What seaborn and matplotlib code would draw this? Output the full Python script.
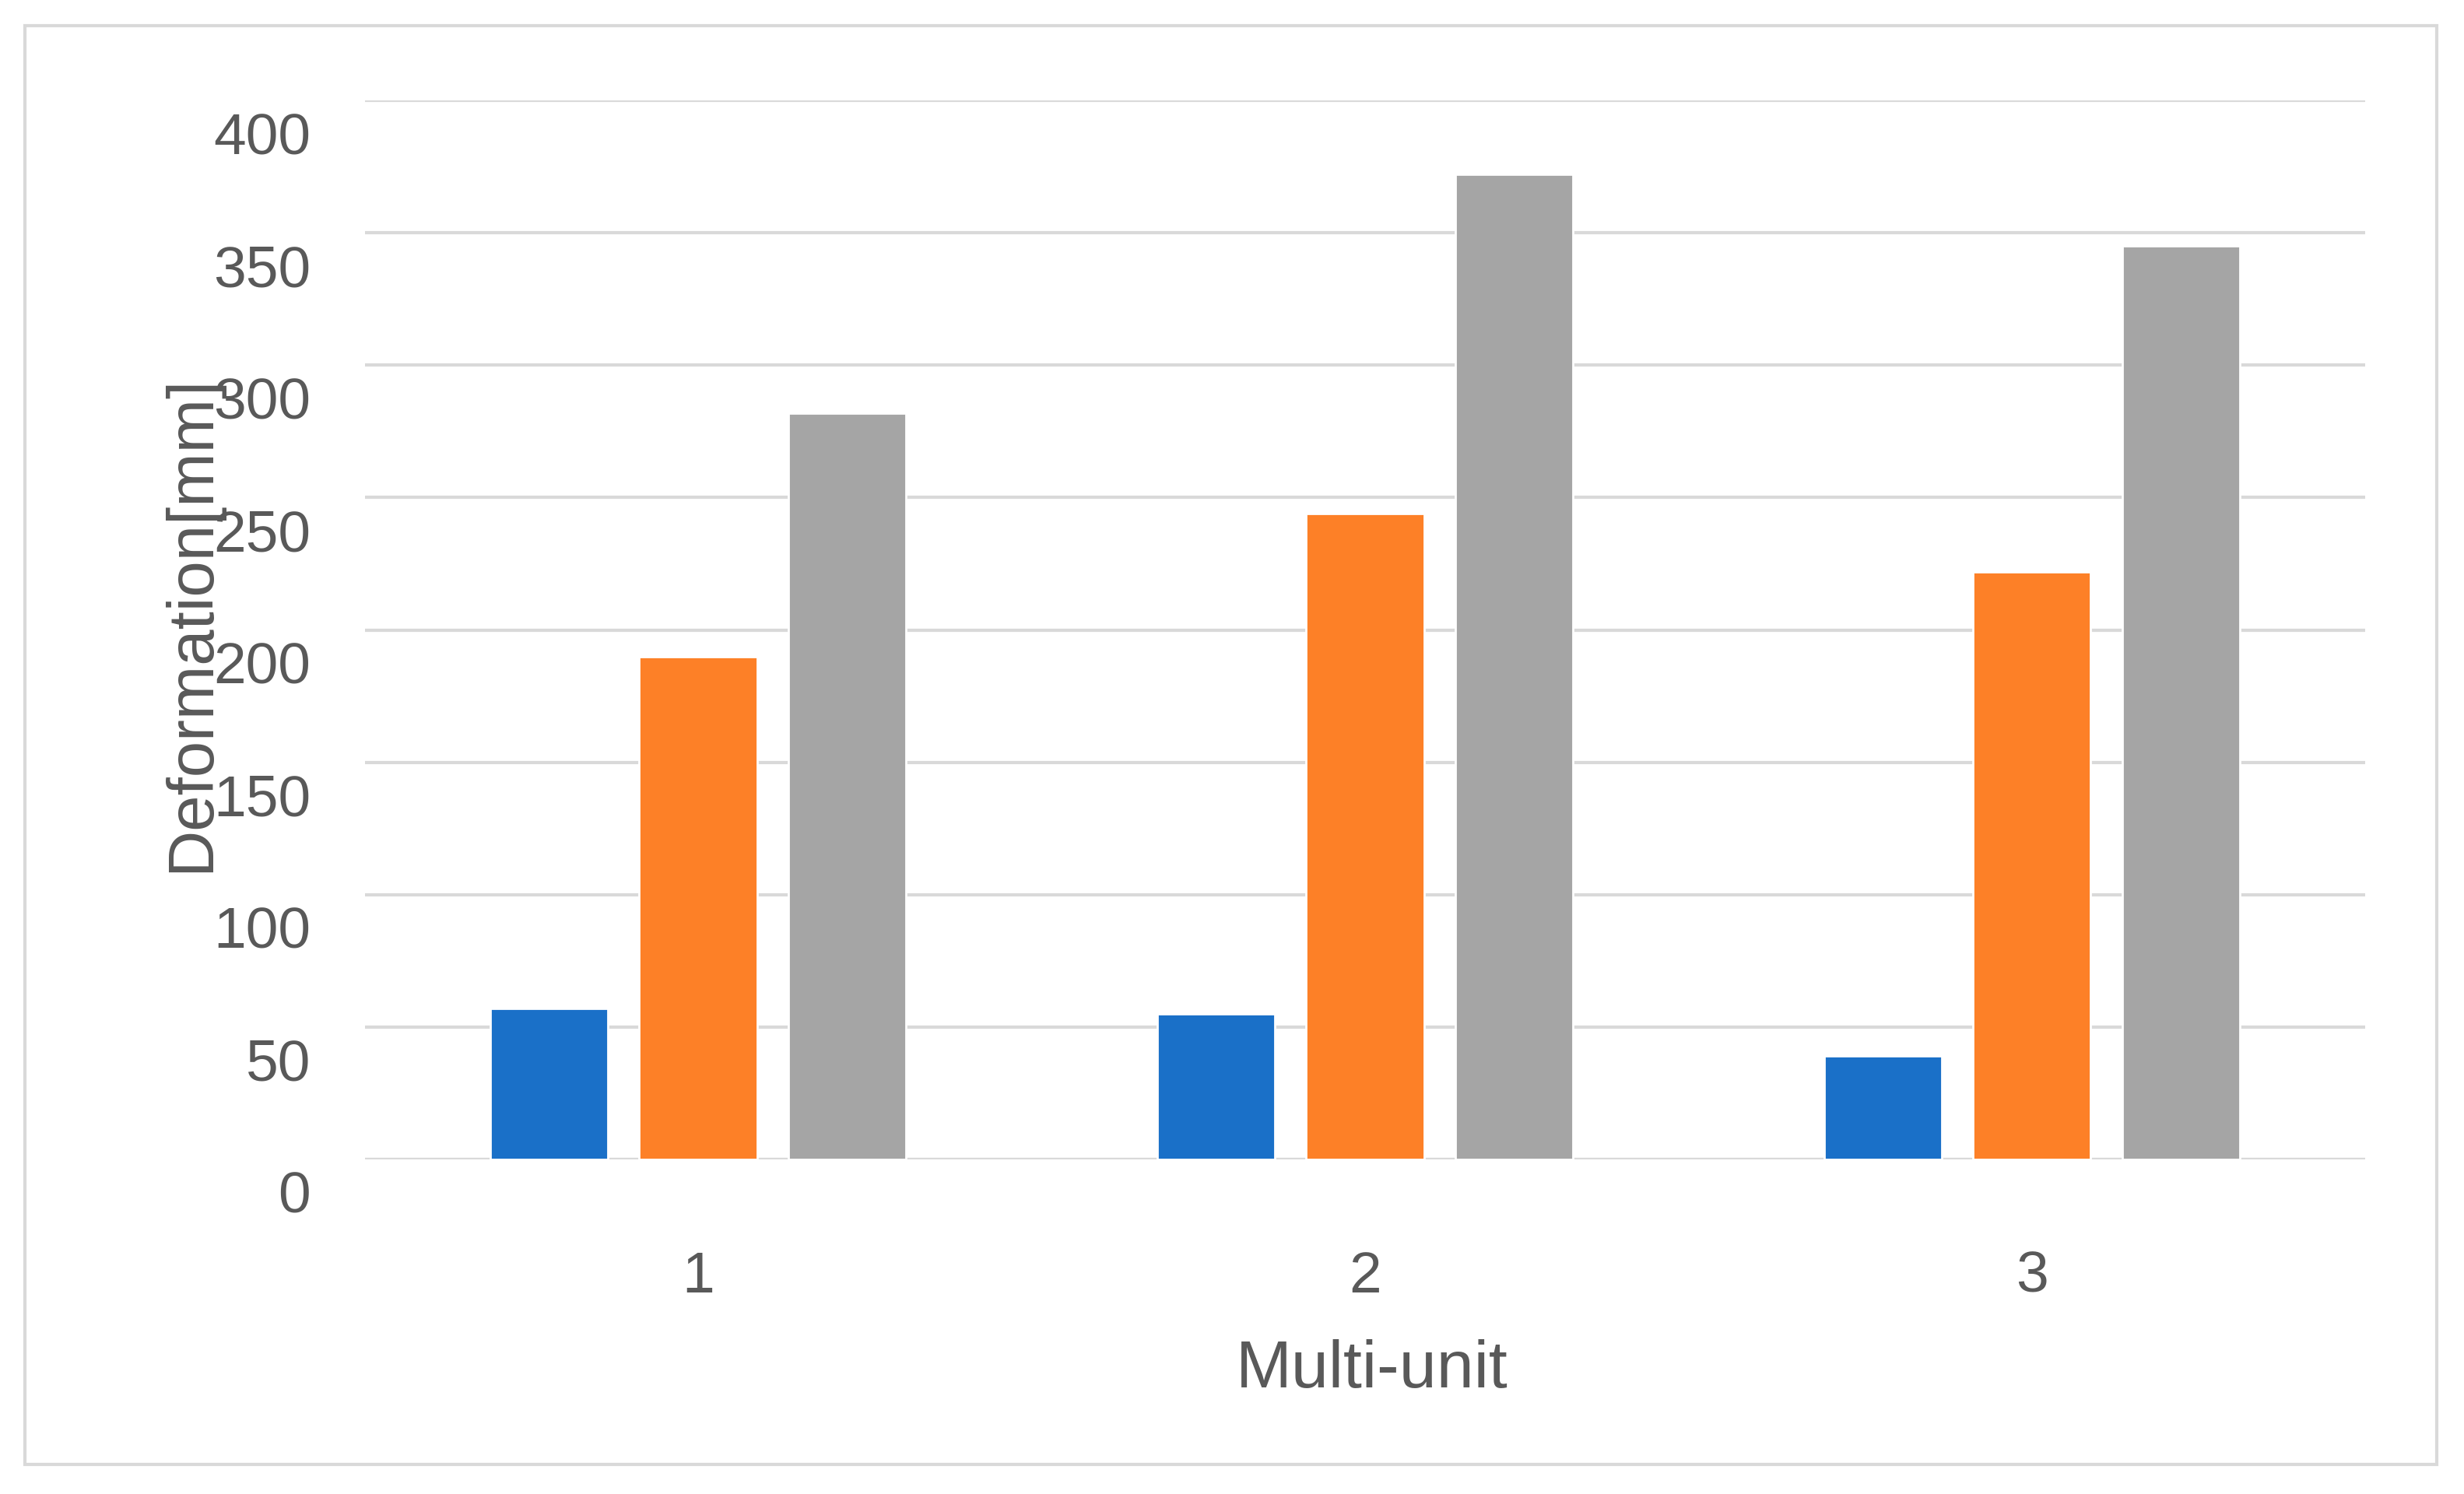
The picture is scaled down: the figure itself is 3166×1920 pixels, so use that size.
import matplotlib.pyplot as plt
import matplotlib.transforms as mtransforms
from matplotlib.patches import Rectangle
import pandas as pd
import seaborn as sns

# Data
units = ["1", "2", "3"]
series_names = ["Series 1", "Series 2", "Series 3"]
series_1 = [57, 55, 39]
series_2 = [190, 244, 222]
series_3 = [282, 372, 345]
y_ticks = [0, 50, 100, 150, 200, 250, 300, 350, 400]

colors = ["#1a70c8", "#fd8027", "#a5a5a5"]
text_color = "#595959"

df = pd.DataFrame({
    "unit": units * 3,
    "series": [s for s in series_names for _ in units],
    "value": series_1 + series_2 + series_3,
})

sns.set_theme(style="white")
plt.rcParams["font.family"] = ["Liberation Sans", "DejaVu Sans"]

fig = plt.figure(figsize=(15.83, 9.6), dpi=200)
ax = fig.add_axes([0.148, 0.224, 0.812, 0.7087])

sns.barplot(data=df, x="unit", y="value", hue="series", order=units,
            hue_order=series_names, palette=colors, width=0.67, gap=0.21,
            saturation=1, legend=False, ax=ax)

ax.set_ylim(0, 400)
ax.set_xlim(-0.5, 2.5)
ax.set_yticks(y_ticks)
ax.yaxis.grid(True, color="#d9d9d9", linewidth=1.5)
ax.set_axisbelow(True)
for side in ["top", "right", "left", "bottom"]:
    ax.spines[side].set_visible(False)
ax.axhline(0, color="#d9d9d9", linewidth=1.5, zorder=0)

ax.tick_params(axis="y", length=0, pad=25, labelsize=27, labelcolor=text_color)
ax.tick_params(axis="x", length=0, pad=42, labelsize=27, labelcolor=text_color)

# Excel style: y tick labels sit a little below their gridline
shift = mtransforms.ScaledTranslation(0, -0.21, fig.dpi_scale_trans)
for lbl in ax.get_yticklabels():
    lbl.set_transform(lbl.get_transform() + shift)

ax.set_xlabel("Multi-unit", fontsize=31, color=text_color, va="center")
ax.xaxis.set_label_coords(0.5035, -0.199)
ax.set_ylabel("Deformation[mm]", fontsize=30, color=text_color, va="center")
ax.yaxis.set_label_coords(-0.0864, 0.506)

# light frame around the whole chart
fig.patches.append(Rectangle((0.0101, 0.0199), 0.979, 0.963, transform=fig.transFigure,
                             fill=False, edgecolor="#d9d9d9", linewidth=1.5))

fig.savefig("out.png", dpi=200, facecolor="white")
